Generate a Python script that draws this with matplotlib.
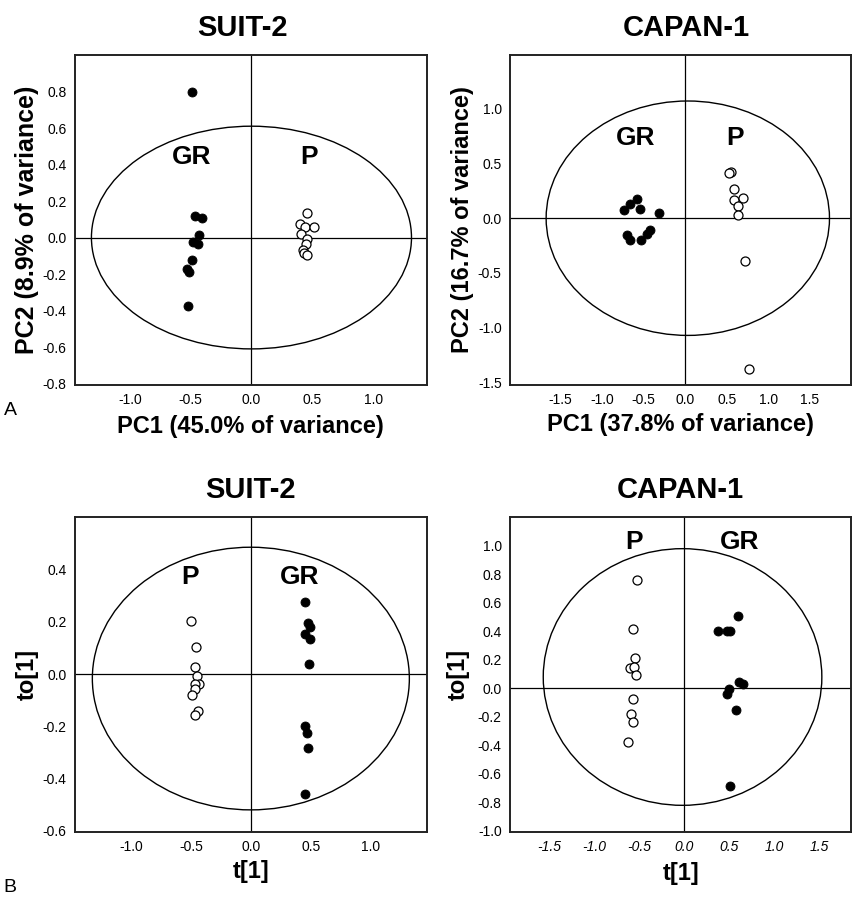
import matplotlib
matplotlib.use("Agg")
import matplotlib.pyplot as plt
from matplotlib.patches import Ellipse

plt.rcParams["font.family"] = ["Liberation Sans", "DejaVu Sans"]

# ---- A: PCA score plots -------------------------------------------------
suit_pca_gr_x = [-0.49, -0.46, -0.41, -0.43, -0.48, -0.44, -0.49, -0.53, -0.51, -0.52]
suit_pca_gr_y = [0.80, 0.118, 0.109, 0.014, -0.024, -0.033, -0.125, -0.17, -0.186, -0.373]
suit_pca_p_x = [0.46, 0.40, 0.44, 0.51, 0.41, 0.46, 0.45, 0.42, 0.435, 0.46]
suit_pca_p_y = [0.136, 0.073, 0.058, 0.058, 0.022, -0.009, -0.033, -0.069, -0.082, -0.095]

capan_pca_gr_x = [-0.74, -0.67, -0.58, -0.55, -0.32, -0.70, -0.66, -0.53, -0.46, -0.42]
capan_pca_gr_y = [0.075, 0.127, 0.175, 0.082, 0.048, -0.149, -0.197, -0.20, -0.14, -0.11]
capan_pca_p_x = [0.55, 0.53, 0.58, 0.59, 0.69, 0.63, 0.64, 0.72, 0.77]
capan_pca_p_y = [0.42, 0.41, 0.27, 0.17, 0.18, 0.11, 0.03, -0.39, -1.376]

# ---- B: OPLS-DA score plots ---------------------------------------------
suit_opls_p_x = [-0.50, -0.457, -0.47, -0.446, -0.43, -0.47, -0.47, -0.49, -0.44, -0.47]
suit_opls_p_y = [0.204, 0.102, 0.028, -0.009, -0.036, -0.038, -0.056, -0.079, -0.143, -0.156]
suit_opls_gr_x = [0.454, 0.48, 0.495, 0.45, 0.495, 0.49, 0.454, 0.47, 0.48, 0.45]
suit_opls_gr_y = [0.274, 0.195, 0.182, 0.154, 0.134, 0.038, -0.20, -0.226, -0.281, -0.459]

capan_opls_p_x = [-0.53, -0.57, -0.55, -0.61, -0.555, -0.54, -0.57, -0.59, -0.57, -0.63]
capan_opls_p_y = [0.76, 0.414, 0.215, 0.14, 0.147, 0.093, -0.073, -0.18, -0.237, -0.375]
capan_opls_gr_x = [0.60, 0.37, 0.47, 0.51, 0.61, 0.65, 0.50, 0.48, 0.57, 0.51]
capan_opls_gr_y = [0.51, 0.40, 0.40, 0.40, 0.044, 0.028, -0.005, -0.04, -0.152, -0.686]

# Hotelling T2 ellipses: (cx, cy, width, height)
suit_pca_ell = (0.0, 0.0, 2.63, 1.22)
capan_pca_ell = (0.03, 0.0, 3.41, 2.14)
suit_opls_ell = (0.0, -0.017, 2.65, 1.005)
capan_opls_ell = (-0.02, 0.08, 3.10, 1.80)

W, H = 852, 902
fig = plt.figure(figsize=(W / 100, H / 100), dpi=100)


def px_axes(left, right, top, bottom):
    return fig.add_axes([left / W, 1 - bottom / H, (right - left) / W, (bottom - top) / H])


def score_panel(ax, filled, opened, ell, xlim, ylim, xticks, yticks,
                xlabel, ylabel, xlab_y, ylab_x, italic_x=False, ylab_size=17):
    cx, cy, ew, eh = ell
    ax.add_patch(Ellipse((cx, cy), ew, eh, fill=False, ec="black", lw=1.0, zorder=1))
    ax.axhline(0, color="black", lw=0.9, zorder=1)
    ax.axvline(0, color="black", lw=0.9, zorder=1)
    ax.scatter(filled[0], filled[1], s=42, c="black", edgecolors="black",
               linewidths=0.6, zorder=3)
    ax.scatter(opened[0], opened[1], s=42, facecolors="white", edgecolors="black",
               linewidths=0.9, zorder=3)
    ax.set_xlim(*xlim); ax.set_ylim(*ylim)
    ax.set_xticks(xticks); ax.set_yticks(yticks)
    ax.set_xticklabels([f"{t:.1f}" for t in xticks], fontsize=10,
                       style="italic" if italic_x else "normal")
    ax.set_yticklabels([f"{t:.1f}" for t in yticks], fontsize=10)
    ax.tick_params(length=0, pad=6)
    for s in ax.spines.values():
        s.set_linewidth(1.4); s.set_color("#222222")
    ax.set_xlabel(xlabel, fontsize=17, fontweight="bold")
    ax.set_ylabel(ylabel, fontsize=ylab_size, fontweight="bold")
    ax.xaxis.label.set_va("center"); ax.yaxis.label.set_va("center")
    ax.xaxis.set_label_coords(0.5, xlab_y)
    ax.yaxis.set_label_coords(ylab_x, 0.5)


def grp_label(ax, x, y, txt):
    ax.text(x, y, txt, fontsize=19, fontweight="bold", ha="center", va="center", zorder=4)


ax1 = px_axes(75, 426.7, 55, 384.5)
score_panel(ax1, (suit_pca_gr_x, suit_pca_gr_y), (suit_pca_p_x, suit_pca_p_y), suit_pca_ell,
            (-1.45, 1.44), (-0.805, 1.0), [-1.0, -0.5, 0.0, 0.5, 1.0],
            [-0.8, -0.6, -0.4, -0.2, 0.0, 0.2, 0.4, 0.6, 0.8],
            "PC1 (45.0% of variance)", "PC2 (8.9% of variance)", -0.128, -0.136,
            ylab_size=18)
grp_label(ax1, -0.49, 0.44, "GR"); grp_label(ax1, 0.47, 0.44, "P")

ax2 = px_axes(510, 851.5, 55, 384.7)
score_panel(ax2, (capan_pca_gr_x, capan_pca_gr_y), (capan_pca_p_x, capan_pca_p_y), capan_pca_ell,
            (-2.11, 2.0), (-1.52, 1.49), [-1.5, -1.0, -0.5, 0.0, 0.5, 1.0, 1.5],
            [-1.5, -1.0, -0.5, 0.0, 0.5, 1.0],
            "PC1 (37.8% of variance)", "PC2 (16.7% of variance)", -0.122, -0.14)
grp_label(ax2, -0.60, 0.73, "GR"); grp_label(ax2, 0.60, 0.73, "P")

ax3 = px_axes(75, 426.7, 517.3, 831.7)
score_panel(ax3, (suit_opls_gr_x, suit_opls_gr_y), (suit_opls_p_x, suit_opls_p_y), suit_opls_ell,
            (-1.47, 1.47), (-0.603, 0.60), [-1.0, -0.5, 0.0, 0.5, 1.0],
            [-0.6, -0.4, -0.2, 0.0, 0.2, 0.4],
            "t[1]", "to[1]", -0.127, -0.136)
grp_label(ax3, -0.51, 0.37, "P"); grp_label(ax3, 0.41, 0.37, "GR")

ax4 = px_axes(510, 851.5, 517.3, 831.7)
score_panel(ax4, (capan_opls_gr_x, capan_opls_gr_y), (capan_opls_p_x, capan_opls_p_y), capan_opls_ell,
            (-1.94, 1.86), (-1.005, 1.2), [-1.5, -1.0, -0.5, 0.0, 0.5, 1.0, 1.5],
            [-1.0, -0.8, -0.6, -0.4, -0.2, 0.0, 0.2, 0.4, 0.6, 0.8, 1.0],
            "t[1]", "to[1]", -0.132, -0.152, italic_x=True)
grp_label(ax4, -0.56, 1.03, "P"); grp_label(ax4, 0.62, 1.03, "GR")

# titles and panel letters
for x, y, t in [(242, 28, "SUIT-2"), (686, 28, "CAPAN-1"),
                (250, 490, "SUIT-2"), (680, 490, "CAPAN-1")]:
    fig.text(x / W, 1 - y / H, t, fontsize=21, fontweight="bold", ha="center", va="center")
fig.text(10 / W, 1 - 410 / H, "A", fontsize=14, ha="center", va="center")
fig.text(10 / W, 1 - 888 / H, "B", fontsize=14, ha="center", va="center")

fig.savefig("out.png", dpi=100)
